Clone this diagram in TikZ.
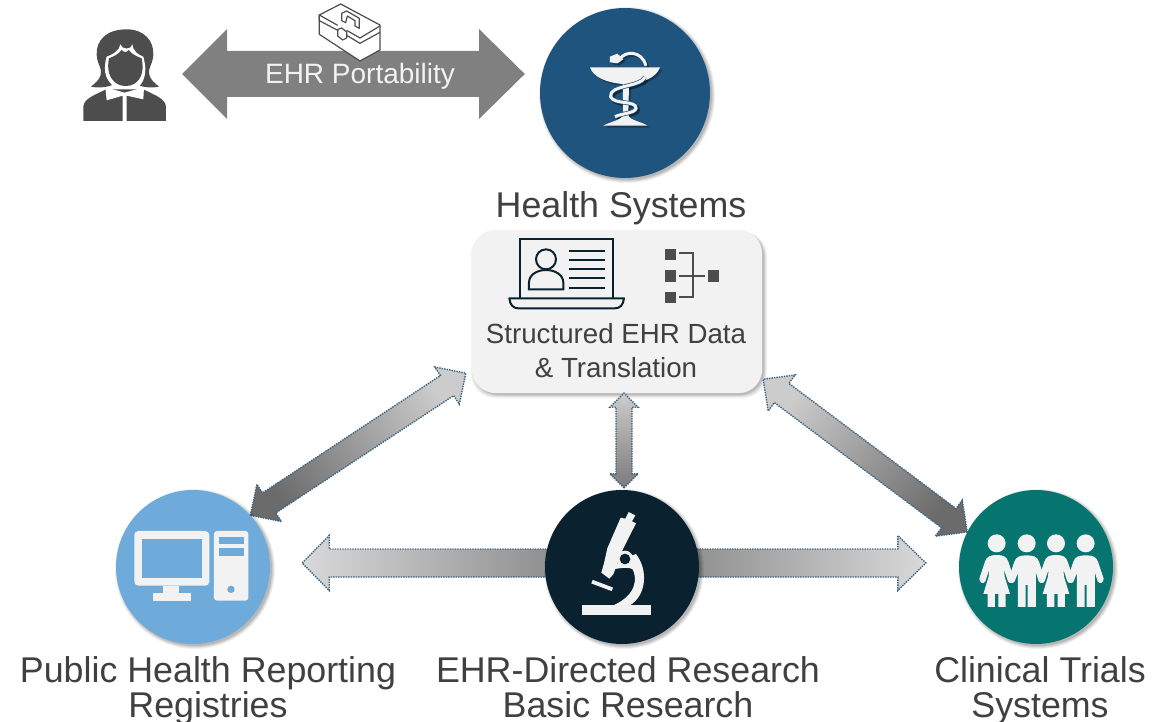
\documentclass[tikz,border=0pt]{standalone}
\usepackage{fontspec}
\setmainfont{Liberation Sans}
\usetikzlibrary{calc}
\definecolor{hsblue}{HTML}{1F547E}
\definecolor{phblue}{HTML}{6EAADA}
\definecolor{navy}{HTML}{0A2130}
\definecolor{teal1}{HTML}{067570}
\definecolor{iconw}{HTML}{F2F2F2}
\definecolor{txt}{HTML}{404040}
\definecolor{dot}{HTML}{3D627E}
\definecolor{ico}{HTML}{4D4D4D}
\tikzset{
  lbl/.style={font=\fontsize{35.8}{35}\selectfont,text=txt,inner sep=0pt,align=center,anchor=base},
  boxlbl/.style={font=\fontsize{27.7}{34}\selectfont,text=txt,inner sep=0pt,align=center,anchor=base},
  disc/.style={circle,minimum size=#1,inner sep=0pt},
  conn/.style={draw=dot,line width=1.4pt,dash pattern=on 1.4pt off 1.1pt},
  gicon/.style={fill=iconw,draw=none},
  laptop/.style={draw=navy,line width=2pt,fill=none},
  tree/.style={draw=ico,line width=2pt},
  tbox/.style={draw=ico,line width=1.2pt,line join=round},
}
\newcommand{\softshadow}[3]{%
  \foreach \k/\o in {3/.06,2/.07,1/.08,0/.10}{%
    \fill[black,opacity=\o] (#1+2,#2+2) circle ({#3+\k});}}
\newcommand{\dblarrow}[7]{% a b head-half head-len shaft-half dark-angle dark-colour
  \shadedraw[conn,shading=axis,bottom color=#7,top color=black!20,shading angle=#6] (#1)
   -- ($(#1)!#4pt!(#2)!#3pt!90:(#2)$) -- ($(#1)!#4pt!(#2)!#5pt!90:(#2)$)
   -- ($(#2)!#4pt!(#1)!#5pt!-90:(#1)$) -- ($(#2)!#4pt!(#1)!#3pt!-90:(#1)$)
   -- (#2)
   -- ($(#2)!#4pt!(#1)!#3pt!90:(#1)$) -- ($(#2)!#4pt!(#1)!#5pt!90:(#1)$)
   -- ($(#1)!#4pt!(#2)!#5pt!-90:(#2)$) -- ($(#1)!#4pt!(#2)!#3pt!-90:(#2)$)
   -- cycle;}
\newcommand{\oneheaded}[6]{% start tip head-half head-len shaft-half angle
  \shadedraw[conn,shading=axis,bottom color=black!52,top color=black!15,shading angle=#6]
   ($(#1)!#5pt!90:(#2)$)
   -- ($(#2)!#4pt!(#1)!#5pt!-90:(#1)$)
   -- ($(#2)!#4pt!(#1)!#3pt!-90:(#1)$)
   -- (#2)
   -- ($(#2)!#4pt!(#1)!#3pt!90:(#1)$)
   -- ($(#2)!#4pt!(#1)!#5pt!90:(#1)$)
   -- ($(#1)!#5pt!-90:(#2)$)
   -- cycle;}
\newcommand{\girl}[1]{%
  \fill[gicon] (#1,190) circle (27);
  \fill[gicon] (#1,225) .. controls (#1+20,225) and (#1+30,230) .. (#1+35,245)
    -- (#1+52,296) .. controls (#1+52,308) and (#1+40,314) .. (#1+34,304)
    -- (#1+22,268) -- (#1+24,290) -- (#1+40,342) -- (#1+27,342) -- (#1+27,381) -- (#1+5,381) -- (#1+5,342)
    -- (#1-5,342) -- (#1-5,381) -- (#1-27,381) -- (#1-27,342) -- (#1-40,342) -- (#1-24,290) -- (#1-22,268)
    -- (#1-34,304) .. controls (#1-40,314) and (#1-52,308) .. (#1-52,296)
    -- (#1-35,245) .. controls (#1-30,230) and (#1-20,225) .. (#1,225) -- cycle;}
\newcommand{\boy}[1]{%
  \fill[gicon] (#1,190) circle (27);
  \fill[gicon] (#1,226) .. controls (#1+20,226) and (#1+32,230) .. (#1+37,245)
    -- (#1+54,296) .. controls (#1+54,308) and (#1+42,314) .. (#1+36,304)
    -- (#1+28,278) -- (#1+28,381) -- (#1+3,381) -- (#1+3,315) -- (#1-3,315) -- (#1-3,381) -- (#1-26,381) -- (#1-26,278)
    -- (#1-36,304) .. controls (#1-42,314) and (#1-54,308) .. (#1-54,296)
    -- (#1-37,245) .. controls (#1-32,230) and (#1-20,226) .. (#1,226) -- cycle;}
\newcommand{\cadbody}[2]{% colour, outline colour
  \fill[#1] (180,202) -- (390,202) .. controls (380,232) and (340,248) .. (297,252) -- (295,345)
    .. controls (300,362) and (335,365) .. (352,377) -- (220,377) .. controls (240,365) and (272,362) .. (280,345) -- (278,252)
    .. controls (230,248) and (190,232) .. (180,202) -- cycle;
  \draw[#1,line width=3pt,line cap=round] (270,177) .. controls (285,152) and (335,152) .. (347,195);
  \fill[#1] (240,170) -- (262,161) -- (280,178) -- (262,190) -- (240,187) -- cycle;
  \draw[#2,line width=4.4pt] (345,232) .. controls (330,262) and (235,255) .. (242,290) .. controls (250,315) and (320,300) .. (318,325) .. controls (315,340) and (275,340) .. (255,350);
  \draw[#1,line width=3pt] (345,232) .. controls (330,262) and (235,255) .. (242,290) .. controls (250,315) and (320,300) .. (318,325) .. controls (315,340) and (275,340) .. (255,350);}
\begin{document}
\begin{tikzpicture}[x=1pt,y=-1pt]
\clip (0,0) rectangle (1173,722);
\fill[white] (0,0) rectangle (1173,722);

% nodes placed first so the connectors can refer to them
\path node[disc=170pt] (hs) at (625,93) {}
      node[disc=154pt] (ph) at (193,567) {}
      node[disc=154pt] (mid) at (622,567) {}
      node[disc=154pt] (ct) at (1036,567) {}
      node[minimum width=290pt,minimum height=163pt,inner sep=0pt] (box) at (617,311.5) {};
\node[minimum width=84pt,minimum height=92pt,inner sep=0pt] (patient) at (124.5,75) {};

% box with shadow
\foreach \k/\o in {3/.05,2/.06,1/.08,0/.10}{
  \fill[black,opacity=\o,rounded corners=24pt] (474-\k,232) rectangle (764+\k,395+\k);}
\fill[iconw,rounded corners=24pt] (box.south west) rectangle (box.north east);

% connectors
\coordinate (la) at ($(box.south west)+(-6,-20)$);
\coordinate (lb) at (ph.42);
\coordinate (ra) at ($(box.south east)+(1,-14)$);
\coordinate (rb) at (ct.153);
\coordinate (va) at ($(box.south)+(7,0)$);
\coordinate (vb) at ($(mid.north)+(2,-2)$);
\coordinate (hm) at ($(mid.center)+(0,-4)$);
\coordinate (hl) at ($(ph.east)+(32,-4)$);
\coordinate (hr) at ($(ct.west)+(-33,-4)$);
\dblarrow{lb}{la}{22.3}{22.5}{12}{303.4}{black!58}
\dblarrow{rb}{ra}{22.5}{23}{12}{53.3}{black!58}
\dblarrow{vb}{va}{14}{14}{8}{0}{black!52}
\oneheaded{hm}{hl}{27.5}{27}{14}{90}
\oneheaded{hm}{hr}{27.5}{28}{14}{270}

% portability arrow
\coordinate (pl) at ($(patient.east)+(15.5,-1)$);
\coordinate (pr) at ($(hs.west)+(-15,-19)$);
\fill[black!50] (pl) -- (227,29) -- (227,51) -- (479,51) -- (479,29) -- (pr) -- (479,119) -- (479,97) -- (227,97) -- (227,119) -- cycle;

% discs
\softshadow{625}{93}{85}\fill[hsblue] (hs.center) circle (85);
\softshadow{193}{567}{77}\fill[phblue] (ph.center) circle (77);
\softshadow{622}{567}{77}\fill[navy] (mid.center) circle (77);
\softshadow{1036}{567}{77}\fill[teal1] (ct.center) circle (77);

% toolbox
\begin{scope}[shift={(300,0)},scale=0.3333]
\fill[white] (58,45) -- (122,12) -- (240,75) -- (240,150) -- (180,183) -- (58,103) -- cycle;
\draw[tbox] (58,45) -- (122,12) -- (240,75) -- (240,150) -- (180,183) -- (58,103) -- cycle;
\draw[tbox] (58,45) -- (58,62) -- (115,92) (140,106) -- (180,130) -- (240,97);
\draw[tbox] (58,45) -- (113,76) (140,91) -- (180,114) -- (240,78);
\draw[tbox] (125,62) -- (125,40) -- (140,33) -- (178,55) -- (178,85) -- (165,78) -- (165,62) -- (142,48) -- (137,68) -- cycle;
\draw[tbox] (113,88) -- (125,84) -- (140,96) -- (140,114) -- (128,120) -- (113,108) -- cycle;
\end{scope}
\node[font=\fontsize{28}{30}\selectfont,text=iconw,inner sep=0pt,anchor=base] (port) at (360,83.5) {EHR Portability};

% patient icon
\begin{scope}[shift={(60,0)},scale=0.3333]
\fill[ico] (200,88) .. controls (250,88) and (282,120) .. (280,165)
  .. controls (278,195) and (262,205) .. (268,225) .. controls (272,240) and (285,250) .. (297,260)
  .. controls (275,265) and (240,262) .. (225,250) -- (165,250)
  .. controls (150,262) and (115,265) .. (93,260) .. controls (105,250) and (118,240) .. (122,225)
  .. controls (128,205) and (112,195) .. (110,165) .. controls (108,120) and (140,88) .. (200,88) -- cycle;
\fill[white] (181,133) .. controls (180,152) and (155,165) .. (140,170)
  .. controls (132,200) and (128,235) .. (165,262) -- (235,262) .. controls (262,235) and (258,200) .. (250,170)
  .. controls (235,165) and (218,152) .. (217,133) .. controls (215,150) and (185,150) .. (181,133) -- cycle;
\fill[ico] (185,150) .. controls (175,163) and (160,170) .. (147,175)
  .. controls (141,205) and (145,235) .. (172,252) .. controls (185,260) and (210,260) .. (222,252)
  .. controls (249,235) and (251,205) .. (245,175) .. controls (232,170) and (215,163) .. (206,150)
  .. controls (200,158) and (192,158) .. (185,150) -- cycle;
\fill[ico] (70,363) -- (70,320) .. controls (72,295) and (105,285) .. (138,268) -- (250,268) .. controls (283,285) and (316,295) .. (318,320) -- (318,363) -- cycle;
\fill[white] (136,262) -- (194,278) -- (252,262) -- (250,298) -- (200,287) -- (200,363) -- (188,363) -- (188,287) -- (140,301) -- cycle;
\end{scope}

% caduceus
\begin{scope}[shift={(532,2)},scale=0.3333]
\begin{scope}[opacity=.3]\cadbody{black}{black}\end{scope}
\end{scope}
\begin{scope}[shift={(530,0)},scale=0.3333]
\cadbody{iconw}{hsblue}
\end{scope}

% computer
\begin{scope}[shift={(100,480)},scale=0.3333]
\fill[gicon,rounded corners=4pt] (103,153) rectangle (328,317);
\fill[phblue] (125,177) rectangle (305,295);
\fill[gicon] (190,317) rectangle (238,340);
\fill[gicon] (160,340) rectangle (272,362);
\fill[gicon,rounded corners=3pt] (342,153) rectangle (445,362);
\fill[phblue] (357,170) rectangle (432,192);
\fill[phblue] (357,205) rectangle (432,228);
\fill[phblue] (393,328) circle (11);
\end{scope}

% microscope
\begin{scope}[shift={(530,480)},scale=0.3333]
\fill[gicon] (155,375) rectangle (362,405);
\fill[gicon] (296,96) -- (316,106) -- (306,124) -- (318,130) -- (275,215) -- (250,283) -- (238,296) -- (214,278) -- (222,250) -- (232,205) -- (272,113) -- (286,116) -- cycle;
\fill[gicon] (250,268) .. controls (280,262) and (300,262) .. (308,268)
  .. controls (322,295) and (320,345) .. (250,376) -- (300,376)
  .. controls (350,345) and (355,270) .. (318,222) -- (270,240) -- cycle;
\fill[gicon] (285,237) circle (25);
\fill[navy] (285,237) circle (16);
\draw[iconw,line width=3.8pt] (186,305) -- (247,328);
\end{scope}

% family
\begin{scope}[shift={(890,480)},scale=0.3333]
\girl{320}
\boy{410}
\girl{498}
\boy{587}
\end{scope}

% laptop and tree in box
\begin{scope}[shift={(460,220)},scale=0.3333]
\draw[laptop] (180,235) -- (180,57) -- (460,57) -- (460,235);
\draw[laptop,line join=round] (148,235) -- (492,235) .. controls (490,255) and (480,265) .. (465,265) -- (175,265) .. controls (160,265) and (150,255) .. (148,235) -- cycle;
\draw[laptop] (258,118) circle (30);
\draw[laptop] (207,208) -- (207,188) .. controls (207,165) and (230,150) .. (258,150) .. controls (286,150) and (310,165) .. (310,188) -- (310,208) -- cycle;
\foreach \yy in {93,120,147,174,203}{\draw[laptop,line width=1.8pt] (328,\yy) -- (435,\yy);}
\fill[ico] (614,87) rectangle (648,120);
\fill[ico] (614,151) rectangle (648,185);
\fill[ico] (614,215) rectangle (648,248);
\fill[ico] (745,151) rectangle (778,185);
\draw[tree] (658,100) -- (700,100) -- (700,232) -- (658,232);
\draw[tree] (658,168) -- (735,168);
\end{scope}

% labels
\node[lbl] (hslbl) at (621,217.5) {Health Systems};
\node[boxlbl] (boxlbl1) at (616,377) {Structured EHR Data\\\& Translation};
\node[lbl] (phlbl) at (208,717.5) {Public Health Reporting\\Registries};
\node[lbl] (midlbl) at (628,717.5) {EHR-Directed Research\\Basic Research};
\node[lbl] (ctlbl) at (1040,717.5) {Clinical Trials\\Systems};
\end{tikzpicture}
\end{document}
